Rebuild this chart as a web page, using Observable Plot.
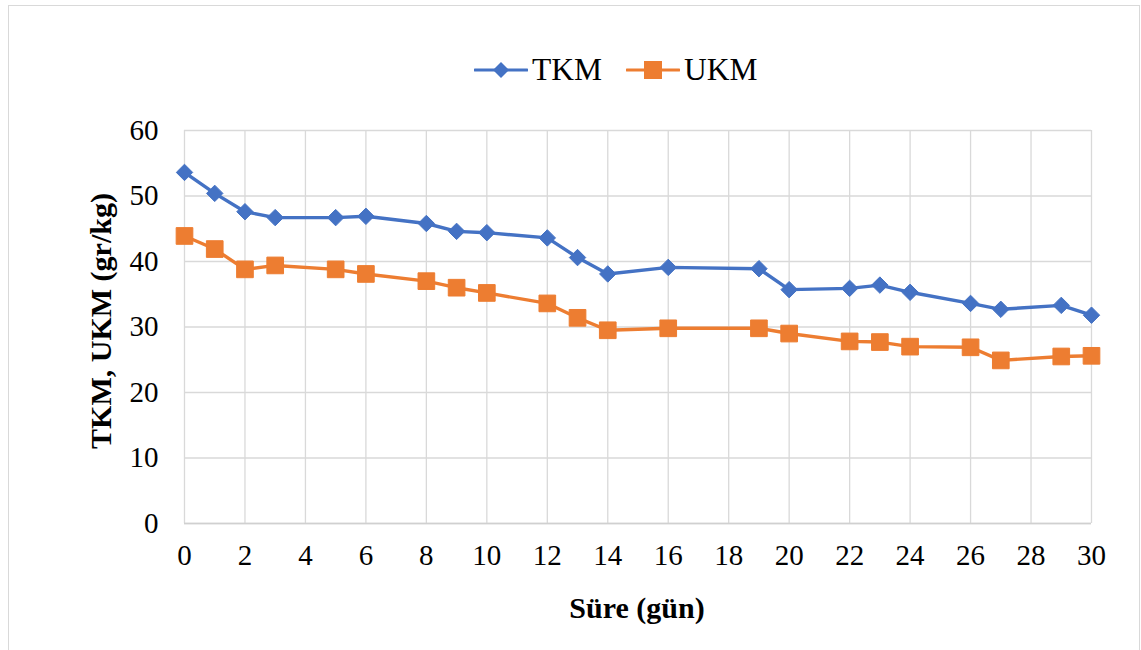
<!DOCTYPE html>
<html>
<head>
<meta charset="utf-8">
<script src="https://cdn.jsdelivr.net/npm/d3@7"></script>
<script src="https://cdn.jsdelivr.net/npm/@observablehq/plot@0.6"></script>
<style>
  html, body { margin: 0; padding: 0; background: #fff; }
  #wrap { position: relative; width: 1141px; height: 650px; overflow: hidden; font-family: 'Liberation Serif', serif; }
  #frame { position: absolute; left: 8px; top: 5px; width: 1132px; height: 700px; border: 1px solid #d9d9d9; box-sizing: border-box; }
  #legend { position: absolute; left: 474px; top: 50px; height: 40px; display: flex; align-items: center; font-size: 31.5px; color: #000; font-family: 'Liberation Serif', serif; }
  #legend .item { display: flex; align-items: center; }
  #legend svg { display: block; }
  #chart { position: absolute; left: 0; top: 110px; }
  #chart svg text { font-family: 'Liberation Serif', serif; }
</style>
</head>
<body>
<div id="wrap">
  <div id="frame"></div>
  <div id="legend"></div>
  <div id="chart"></div>
</div>
<script>
// Storage time in days and the two measured series (gr/kg)
const days = [0, 1, 2, 3, 5, 6, 8, 9, 10, 12, 13, 14, 16, 19, 20, 22, 23, 24, 26, 27, 29, 30];
const tkm  = [53.6, 50.4, 47.6, 46.7, 46.7, 46.9, 45.8, 44.6, 44.4, 43.6, 40.6, 38.1, 39.1, 38.9, 35.7, 35.9, 36.4, 35.3, 33.6, 32.7, 33.3, 31.8];
const ukm  = [43.9, 41.9, 38.8, 39.4, 38.8, 38.1, 37.0, 36.0, 35.2, 33.6, 31.4, 29.5, 29.8, 29.8, 29.0, 27.8, 27.7, 27.0, 26.9, 24.9, 25.5, 25.6];
const xTicks = [0, 2, 4, 6, 8, 10, 12, 14, 16, 18, 20, 22, 24, 26, 28, 30];
const yTicks = [0, 10, 20, 30, 40, 50, 60];
const seriesNames = ["TKM", "UKM"];
const seriesColors = ["#4472C4", "#ED7D31"];
const xTitle = "Süre (gün)";
const yTitle = "TKM, UKM (gr/kg)";

const rows = [
  ...days.map((d, i) => ({day: d, value: tkm[i], series: "TKM"})),
  ...days.map((d, i) => ({day: d, value: ukm[i], series: "UKM"}))
];
const tkmRows = rows.filter(r => r.series === "TKM");
const ukmRows = rows.filter(r => r.series === "UKM");

const font = "Liberation Serif, serif";
const W = 1141, H = 540;

const chart = Plot.plot({
  width: W,
  height: H,
  marginLeft: 184,
  marginRight: 50,
  marginTop: 20,
  marginBottom: 127,
  style: {fontFamily: font, fontSize: "29px", color: "#000", background: "transparent"},
  x: {domain: [0, 30]},
  y: {domain: [0, 60]},
  marks: [
    Plot.gridX(xTicks, {stroke: "#d9d9d9", strokeOpacity: 1, strokeWidth: 1.3}),
    Plot.gridY(yTicks, {stroke: "#d9d9d9", strokeOpacity: 1, strokeWidth: 1.3}),
    Plot.ruleY([0], {stroke: "#d0d0d0", strokeWidth: 1.5}),
    Plot.axisX(xTicks, {tickSize: 0, tickPadding: 21, label: null, fontSize: 29}),
    Plot.axisY(yTicks, {tickSize: 0, tickPadding: 26, label: null, fontSize: 29}),
    Plot.line(tkmRows, {x: "day", y: "value", stroke: seriesColors[0], strokeWidth: 3.4}),
    Plot.line(ukmRows, {x: "day", y: "value", stroke: seriesColors[1], strokeWidth: 3.4}),
    Plot.dot(tkmRows, {x: "day", y: "value", symbol: "diamond2", r: 7.4, fill: seriesColors[0], stroke: seriesColors[0], strokeWidth: 1}),
    Plot.dot(ukmRows, {x: "day", y: "value", symbol: "square", r: 9.4, fill: seriesColors[1], stroke: seriesColors[1], strokeWidth: 1})
  ]
});

// Axis titles
const svg = d3.select(chart);
svg.append("text")
  .attr("x", 637).attr("y", 508)
  .attr("text-anchor", "middle")
  .style("font-family", font).style("font-size", "30px").style("font-weight", "bold")
  .attr("fill", "#000")
  .text(xTitle);
svg.append("text")
  .attr("transform", "translate(111,211) rotate(-90)")
  .attr("text-anchor", "middle")
  .style("font-family", font).style("font-size", "30px").style("font-weight", "bold")
  .attr("fill", "#000")
  .text(yTitle);

document.getElementById("chart").appendChild(chart);

// Legend: line-with-marker swatch followed by the series name
const legend = d3.select("#legend");
seriesNames.forEach((name, i) => {
  const item = legend.append("div").attr("class", "item")
    .style("margin-right", i === 0 ? "24px" : "0px");
  const sw = item.append("svg").attr("width", 54).attr("height", 24);
  sw.append("line").attr("x1", 1).attr("x2", 53).attr("y1", 12).attr("y2", 12)
    .attr("stroke", seriesColors[i]).attr("stroke-width", 3.2).attr("stroke-linecap", "round");
  if (i === 0) {
    sw.append("path").attr("d", d3.symbol(d3.symbolDiamond2, 2 * 9 * 9)()).attr("transform", "translate(27,12)")
      .attr("fill", seriesColors[i]);
  } else {
    sw.append("rect").attr("x", 18).attr("y", 3).attr("width", 18).attr("height", 18).attr("fill", seriesColors[i]);
  }
  item.append("span").style("margin-left", "4px").text(name);
});
</script>
</body>
</html>
